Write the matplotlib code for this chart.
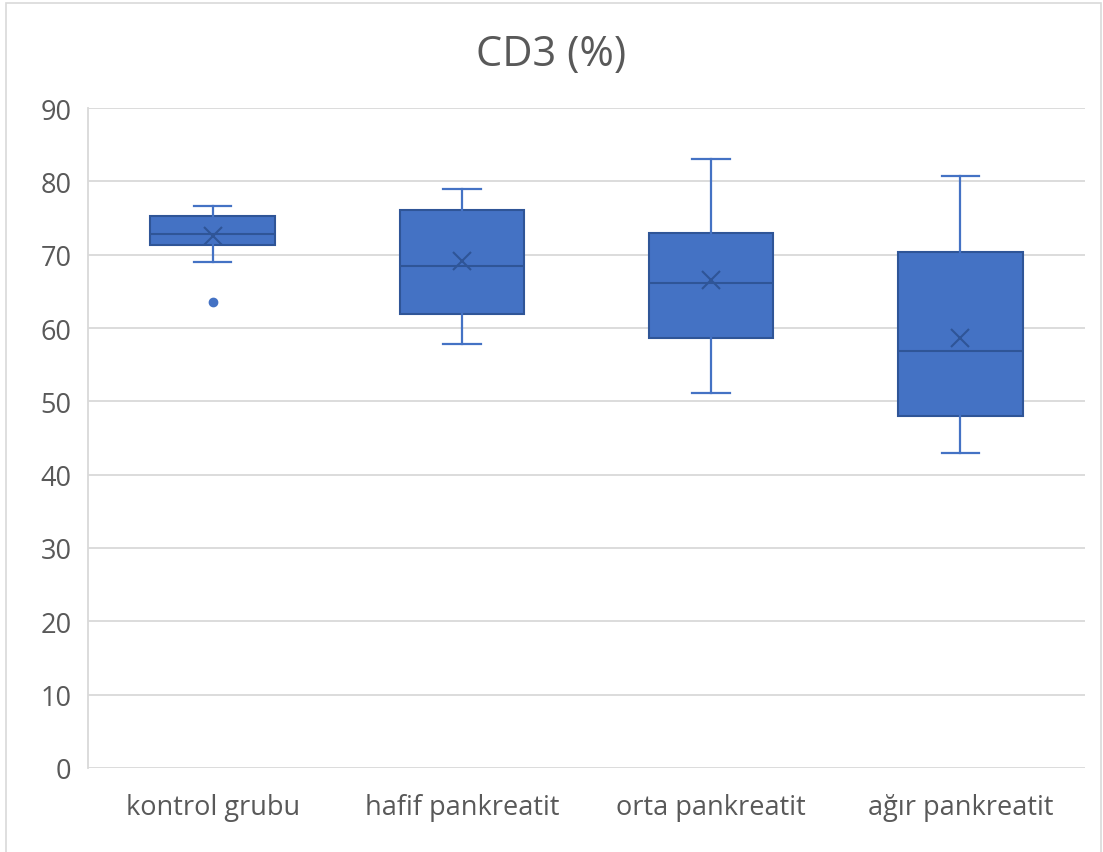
import matplotlib.pyplot as plt
from matplotlib.patches import Rectangle

plt.rcParams['font.family'] = ['Open Sans', 'DejaVu Sans']

groups = ['kontrol grubu', 'hafif pankreatit', 'orta pankreatit', 'ağır pankreatit']
whisker_low = [69.0, 57.8, 51.1, 43.0]
q1 = [71.3, 61.9, 58.6, 48.0]
median = [72.8, 68.5, 66.1, 56.9]
q3 = [75.3, 76.1, 73.0, 70.3]
whisker_high = [76.6, 79.0, 83.0, 80.7]
mean = [72.6, 69.2, 66.6, 58.7]
outliers = [[63.5], [], [], []]

fill = '#4472C4'
edge = '#2F5597'
text_color = '#595959'
grid_color = '#D9D9D9'

stats = []
for i, name in enumerate(groups):
    stats.append({
        'label': name,
        'whislo': whisker_low[i],
        'q1': q1[i],
        'med': median[i],
        'q3': q3[i],
        'whishi': whisker_high[i],
        'mean': mean[i],
        'fliers': outliers[i],
    })

fig = plt.figure(figsize=(11.03, 8.53), dpi=100)
ax = fig.add_axes([0.0798, 0.0985, 0.9039, 0.7737])

# outer chart border
fig.patches.append(Rectangle((6 / 1103, -0.05), 1095 / 1103, 1.0 - 4 / 853 + 0.05,
                             transform=fig.transFigure, fill=False,
                             edgecolor=grid_color, linewidth=1.2))

ax.bxp(stats, positions=[1, 2, 3, 4], widths=0.5, capwidths=0.15,
       showmeans=True, patch_artist=True,
       boxprops=dict(facecolor=fill, edgecolor=edge, linewidth=1.5),
       medianprops=dict(color=edge, linewidth=1.5),
       whiskerprops=dict(color=fill, linewidth=1.6),
       capprops=dict(color=fill, linewidth=1.6),
       meanprops=dict(marker='x', markeredgecolor=edge, markersize=13,
                      markeredgewidth=1.5),
       flierprops=dict(marker='o', markerfacecolor=fill, markeredgecolor=fill,
                       markersize=6))

ax.set_xlim(0.5, 4.5)
ax.set_ylim(0, 90)
ax.set_yticks(range(0, 91, 10))
ax.yaxis.grid(True, color=grid_color, linewidth=1.3)
ax.set_axisbelow(True)

for side in ['top', 'right', 'bottom']:
    ax.spines[side].set_visible(False)
ax.spines['left'].set_color(grid_color)
ax.spines['left'].set_linewidth(1.3)

ax.tick_params(axis='both', length=0, labelsize=19.5, colors=text_color)
ax.tick_params(axis='x', pad=18)
ax.tick_params(axis='y', pad=12)

fig.text(0.5, 0.935, 'CD3 (%)', ha='center', va='center',
         fontsize=30, color=text_color)

fig.savefig('out.png', dpi=100)
